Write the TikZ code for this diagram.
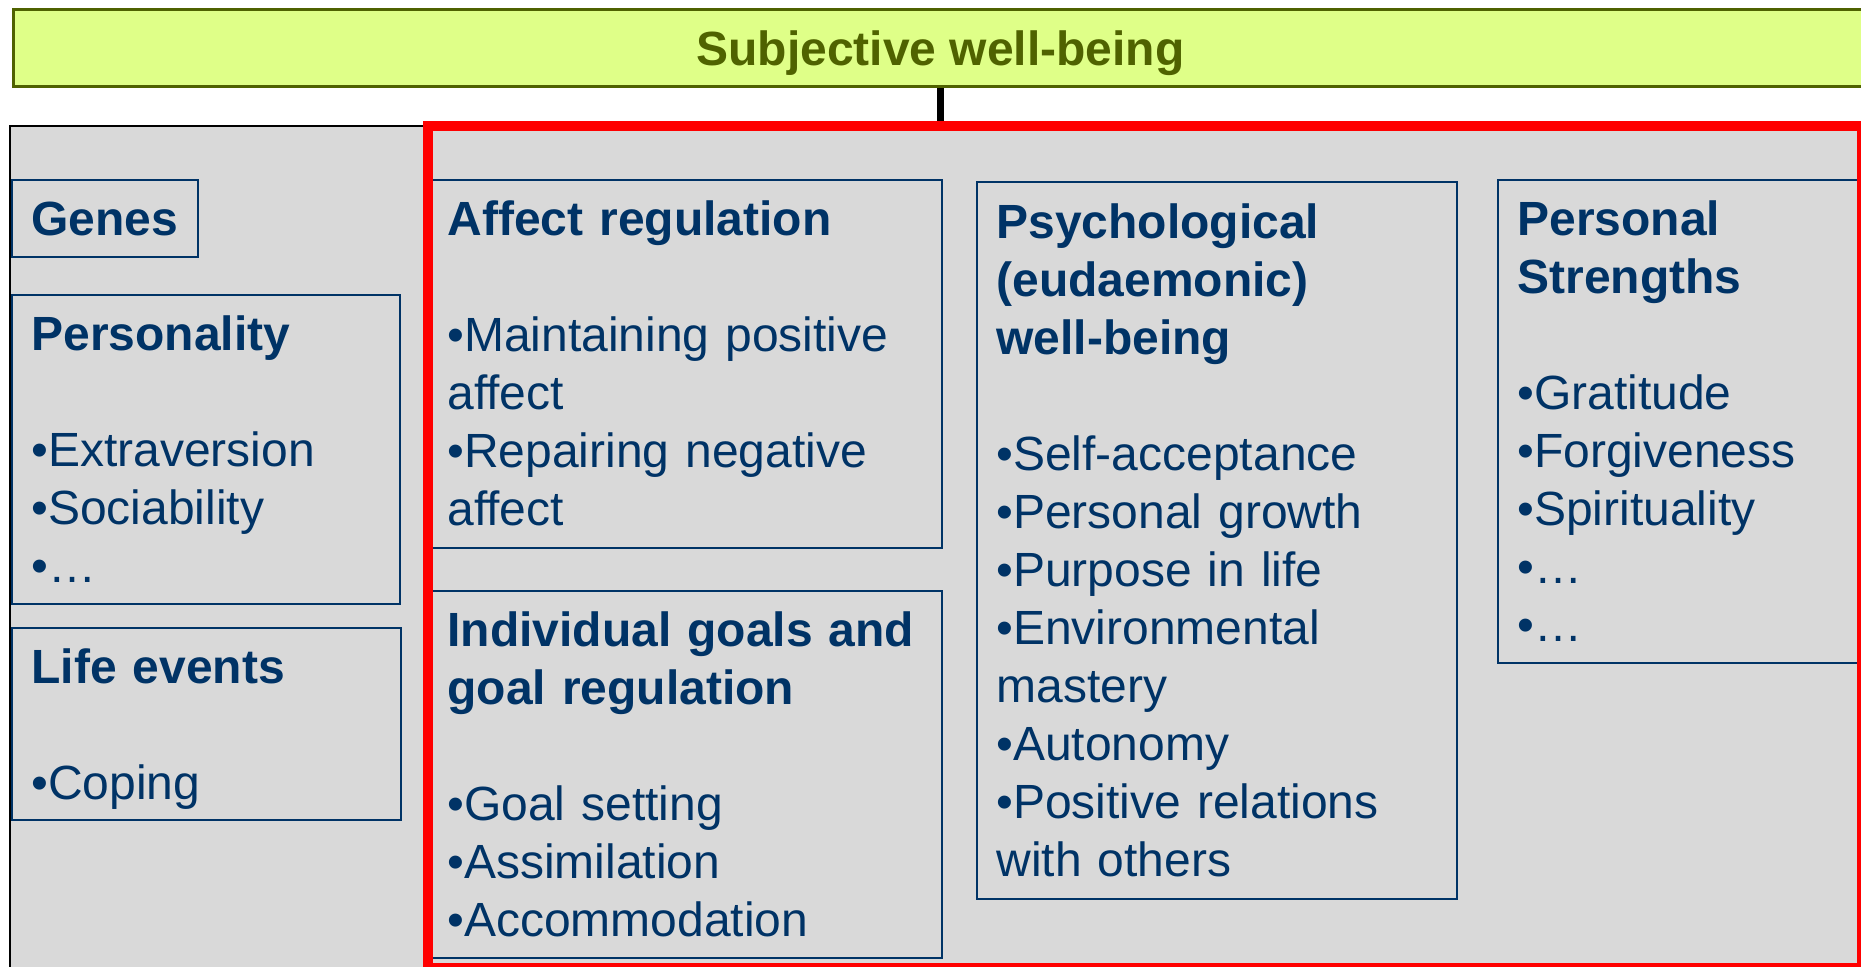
\documentclass[tikz,border=0pt]{standalone}
\usepackage{fontspec}
\setmainfont{Liberation Sans}

\definecolor{swbfill}{HTML}{DFFF88}
\definecolor{swbolive}{HTML}{4F6200}
\definecolor{navy}{HTML}{003366}
\definecolor{panelgray}{HTML}{D9D9D9}

\tikzset{
	factorbox/.style = {draw = navy, line width = 1pt, anchor = north west, inner sep = 0pt},
	factortext/.style = {anchor = base west, inner sep = 0pt, text width = 240pt, align = left,
		text = navy, font = \fontsize{24}{29}\selectfont},
}

\begin{document}
\begin{tikzpicture}[x = 0.5pt, y = -0.5pt]
				\useasboundingbox (0,0) rectangle (1861,966);
				\node[draw, line width = 1pt, fill = panelgray, anchor = north west, minimum width = 960pt, minimum height = 440pt] (panel) at (9,125) {};
				\node[factorbox, minimum width = 93pt, minimum height = 38.5pt] (genes) at (11,179) {};
				\node[factorbox, minimum width = 194pt, minimum height = 154.5pt] (personality) at (11,294) {};
				\node[factorbox, minimum width = 194.5pt, minimum height = 96pt] (lifeevents) at (11,627) {};
				\node[factorbox, minimum width = 255pt, minimum height = 184pt] (affect) at (431,179) {};
				\node[factorbox, minimum width = 255pt, minimum height = 183.5pt] (goals) at (431,590) {};
				\node[factorbox, minimum width = 240pt, minimum height = 358.5pt] (psych) at (976,181) {};
				\node[factorbox, minimum width = 200pt, minimum height = 241.5pt] (strengths) at (1497,179) {};
				\node[factortext] (genesT) at (31,235) {\textbf{Genes}};
				\node[factortext] (personalityT) at (31,350) {\textbf{Personality}\\[29pt]•Extraversion\\•Sociability\\•…};
				\node[factortext] (lifeeventsT) at (31,683) {\textbf{Life events}\\[29pt]•Coping};
				\node[factortext] (affectT) at (447,235) {\textbf{Affect regulation}\\[29pt]•Maintaining positive\\affect\\•Repairing negative\\affect};
				\node[factortext] (goalsT) at (447,646) {\textbf{Individual goals and}\\\textbf{goal regulation}\\[29pt]•Goal setting\\•Assimilation\\•Accommodation};
				\node[factortext] (psychT) at (996,238) {\textbf{Psychological}\\\textbf{(eudaemonic)}\\\textbf{well-being}\\[29pt]•Self-acceptance\\•Personal growth\\•Purpose in life\\•Environmental\\mastery\\•Autonomy\\•Positive relations\\with others};
				\node[factortext] (strengthsT) at (1517,235) {\textbf{Personal}\\\textbf{Strengths}\\[29pt]•Gratitude\\•Forgiveness\\•Spirituality\\•…\\•…};
				\node[draw = red, line width = 5pt, anchor = north west, minimum width = 717pt, minimum height = 421pt] (focus) at (423,121) {};
				\node[draw = swbolive, line width = 1.5pt, fill = swbfill, anchor = north west, minimum width = 927pt, minimum height = 38.5pt,
					text depth = 0pt, text = swbolive, font = \bfseries\fontsize{24}{29}\selectfont] (title) at (12,8) {Subjective well-being};
				\draw[line width = 3.5pt] (title.south) -- (title.south |- focus.north);
			\end{tikzpicture}
\end{document}
